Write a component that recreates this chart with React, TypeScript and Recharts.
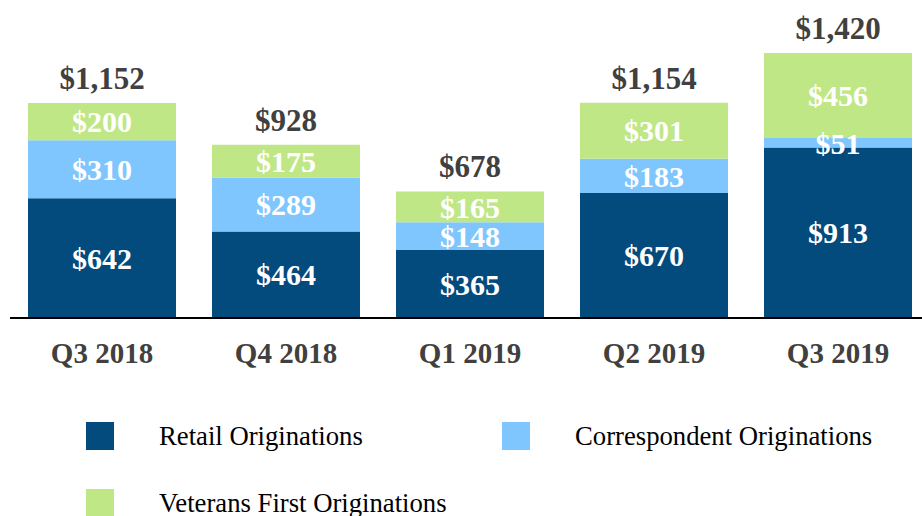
import { BarChart, Bar, XAxis, YAxis, LabelList } from 'recharts';

const quarters = ['Q3 2018', 'Q4 2018', 'Q1 2019', 'Q2 2019', 'Q3 2019'];
const retail = [642, 464, 365, 670, 913];
const correspondent = [310, 289, 148, 183, 51];
const veterans = [200, 175, 165, 301, 456];

const seriesNames = ['Retail Originations', 'Correspondent Originations', 'Veterans First Originations'];
const seriesColors = ['#034A7D', '#80C6FE', '#C0E786'];

const FONT = '"Liberation Serif", "Times New Roman", serif';

const data = quarters.map((q, i) => ({
  quarter: q,
  retail: retail[i],
  correspondent: correspondent[i],
  veterans: veterans[i],
}));

const money = (v: number) => '$' + v.toLocaleString('en-US');

function QuarterTick({ x, y, payload }: any) {
  return (
    <text x={x} y={y + 45} textAnchor="middle" fontFamily={FONT} fontSize={29} fontWeight="bold" fill="#404040">
      {payload.value}
    </text>
  );
}

// total of the stack, drawn above the top segment
function TotalLabel({ x, y, width, index }: any) {
  const total = retail[index] + correspondent[index] + veterans[index];
  return (
    <text x={x + width / 2} y={y - 14} textAnchor="middle" fontFamily={FONT} fontSize={31} fontWeight="bold" fill="#404040">
      {money(total)}
    </text>
  );
}

const segLabel = {
  fill: '#ffffff',
  fontFamily: FONT,
  fontSize: 30,
  fontWeight: 'bold',
};

export default function App() {
  return (
    <div style={{ position: 'absolute', left: 0, top: 0, width: 922, height: 516, overflow: 'hidden', background: '#fff' }}>
      <BarChart width={930} height={400} data={data} margin={{ top: 53, right: 0, left: 10, bottom: 0 }}>
        <XAxis
          dataKey="quarter"
          height={82}
          tickLine={false}
          tickSize={0}
          tickMargin={0}
          axisLine={{ stroke: '#000', strokeWidth: 2 }}
          tick={<QuarterTick />}
          interval={0}
        />
        <YAxis hide domain={[0, 1420]} />
        <Bar dataKey="retail" stackId="a" fill={seriesColors[0]} barSize={148} isAnimationActive={false}>
          <LabelList dataKey="retail" position="center" formatter={(v: any) => money(Number(v))} style={segLabel} />
        </Bar>
        <Bar dataKey="correspondent" stackId="a" fill={seriesColors[1]} barSize={148} isAnimationActive={false}>
          <LabelList dataKey="correspondent" position="center" formatter={(v: any) => money(Number(v))} style={segLabel} />
        </Bar>
        <Bar dataKey="veterans" stackId="a" fill={seriesColors[2]} barSize={148} isAnimationActive={false}>
          <LabelList dataKey="veterans" position="center" formatter={(v: any) => money(Number(v))} style={segLabel} />
          <LabelList dataKey="veterans" content={<TotalLabel />} />
        </Bar>
      </BarChart>

      {/* legend */}
      {seriesNames.map((name, i) => {
        const left = i === 1 ? 502 : 86;
        const top = i === 2 ? 489 : 422;
        return (
          <div key={name}>
            <div style={{ position: 'absolute', left, top, width: 28, height: 28, background: seriesColors[i] }} />
            <div
              style={{
                position: 'absolute',
                left: left + 73,
                top: top - 2,
                fontFamily: FONT,
                fontSize: 26.7,
                lineHeight: '32px',
                color: '#000',
                whiteSpace: 'nowrap',
              }}
            >
              {name}
            </div>
          </div>
        );
      })}
    </div>
  );
}
